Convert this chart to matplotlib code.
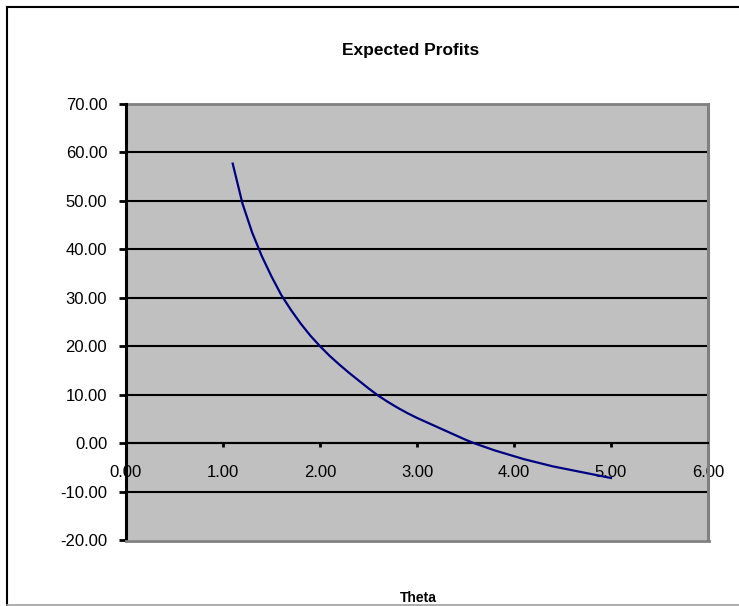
import matplotlib
matplotlib.use("Agg")
import matplotlib.pyplot as plt
from matplotlib.lines import Line2D

theta = [1.1, 1.2, 1.3, 1.4, 1.5, 1.6, 1.7, 1.8, 1.9, 2.0,
         2.1, 2.2, 2.3, 2.4, 2.5, 2.6, 2.7, 2.8, 2.9, 3.0,
         3.1, 3.2, 3.3, 3.4, 3.5, 3.6, 3.7, 3.8, 3.9, 4.0,
         4.1, 4.2, 4.3, 4.4, 4.5, 4.6, 4.7, 4.8, 4.9, 5.0]
profits = [57.7, 49.5, 43.5, 38.6, 34.4, 30.6, 27.5, 24.7, 22.2, 20.0,
           18.0, 16.2, 14.5, 12.9, 11.3, 9.8, 8.5, 7.3, 6.2, 5.2,
           4.3, 3.4, 2.5, 1.6, 0.7, -0.1, -0.8, -1.5, -2.1, -2.7,
           -3.3, -3.8, -4.3, -4.8, -5.2, -5.6, -6.0, -6.4, -6.8, -7.2]
x_ticks = [0, 1, 2, 3, 4, 5, 6]
y_ticks = [-20, -10, 0, 10, 20, 30, 40, 50, 60, 70]

plt.rcParams['font.family'] = ['Liberation Sans', 'DejaVu Sans']

W, H = 739, 606
fig = plt.figure(figsize=(W / 100, H / 100), dpi=100)
fig.patch.set_facecolor('white')

def fx(px):
    return px / W

def fy(py):
    return 1 - py / H

left, right, top, bottom = 126, 708, 104, 540
ax = fig.add_axes([fx(left), fy(bottom), fx(right) - fx(left), fy(top) - fy(bottom)])

ax.set_facecolor('#C0C0C0')
ax.set_xlim(0, 6)
ax.set_ylim(-20, 70)

for yv in y_ticks[1:-1]:
    ax.axhline(yv, color='black', lw=1.5, zorder=1)

ax.plot(theta, profits, color='#000080', lw=1.6, zorder=3)

ax.spines['top'].set_color('#808080')
ax.spines['top'].set_linewidth(2.0)
ax.spines['right'].set_color('#808080')
ax.spines['right'].set_linewidth(2.2)
ax.spines['left'].set_linewidth(2.2)
ax.spines['left'].set_zorder(4)
ax.spines['bottom'].set_position(('data', 0))
ax.spines['bottom'].set_linewidth(1.5)

ax.set_yticks(y_ticks)
ax.set_yticklabels([f"{v:.2f}" for v in y_ticks], fontsize=12)
ax.set_xticks(x_ticks)
ax.set_xticklabels([f"{v:.2f}" for v in x_ticks], fontsize=12)
ax.tick_params(axis='y', direction='out', length=5, width=2, pad=8.5)
ax.tick_params(axis='x', direction='out', length=3, width=2, pad=13)

# bottom edge of the plot area (grey)
fig.add_artist(Line2D([fx(left), fx(right + 1)], [fy(bottom + 0.5), fy(bottom + 0.5)],
                      color='#808080', lw=2.0, transform=fig.transFigure, zorder=5))

fig.text(fx((left + right) / 2 - 6), fy(51), 'Expected Profits', ha='center', va='center',
         fontsize=12.5, fontweight='bold')
fig.text(fx(418), fy(598), 'Theta', ha='center', va='center', fontsize=10, fontweight='bold')

# chart border
fig.add_artist(Line2D([fx(7), fx(W)], [fy(7), fy(7)], color='black', lw=1.5, transform=fig.transFigure))
fig.add_artist(Line2D([fx(7), fx(7)], [fy(7), fy(H)], color='black', lw=1.5, transform=fig.transFigure))
fig.add_artist(Line2D([fx(7), fx(W)], [fy(604.5), fy(604.5)], color='#A0A0A0', lw=1.2, transform=fig.transFigure))

fig.savefig('out.png', dpi=100, facecolor='white')
